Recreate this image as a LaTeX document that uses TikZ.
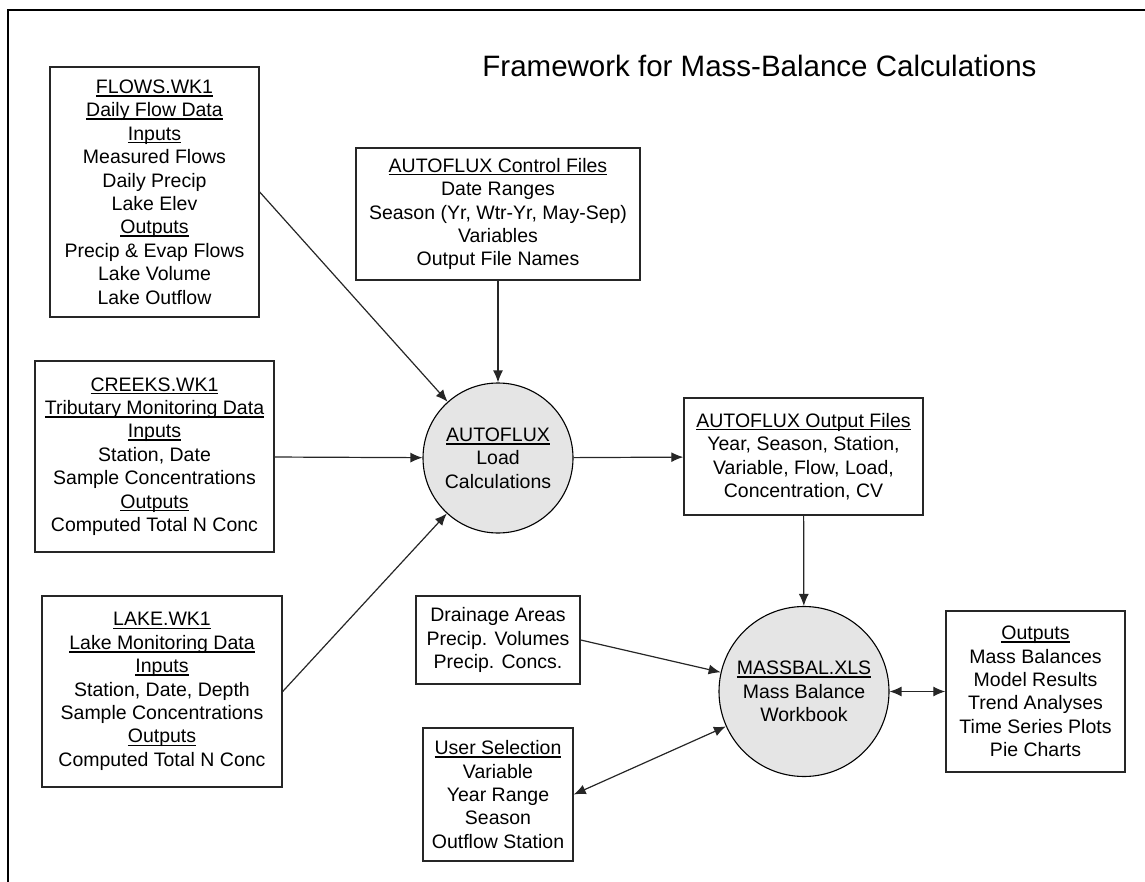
\documentclass[tikz,border=0pt]{standalone}
\usepackage{fontspec}
\setmainfont{Liberation Sans}
\usetikzlibrary{arrows.meta}

\newcommand{\bodyfont}{\fontsize{19.5}{23.4}\selectfont}
\newcommand{\titlefont}{\fontsize{29.5}{34}\selectfont}
\newcommand{\ulabel}[1]{\setbox0\hbox{#1}\hbox{\rlap{\rule[-3.2pt]{\wd0}{1.6pt}}\box0}}
\tikzset{
	box/.style={draw=black!85, line width=1.4pt, inner sep=0pt, align=center, font=\bodyfont},
	bubble/.style={circle, draw=black, line width=1.1pt, fill=black!10, inner sep=0pt, align=center, font=\bodyfont},
	flow/.style={-{Latex[length=12pt,width=10pt]}, draw=black!85, line width=1.2pt},
	twoway/.style={{Latex[length=12pt,width=10pt]}-{Latex[length=12pt,width=10pt]}, draw=black!85, line width=1.2pt},
}

\begin{document}
\begin{tikzpicture}[x=1pt, y=-1pt]
	\useasboundingbox (0,0) rectangle (1145,882);
	% Frame and title:
	\draw[line width=2.5pt] (1145,10) -| (8,882);
	\node[font=\titlefont](title) at (759.5,66){Framework for Mass-Balance Calculations};
	% Data files and inputs:
	\node[box, minimum width=209, minimum height=250](flows) at (154.5,192){\ulabel{FLOWS.WK1}\\ \ulabel{Daily Flow Data}\\ \ulabel{Inputs}\\ Measured Flows\\ Daily Precip\\ Lake Elev\\ \ulabel{Outputs}\\ Precip \& Evap Flows\\ Lake Volume\\ Lake Outflow};
	\node[box, minimum width=239, minimum height=191](creeks) at (154.5,456.5){\ulabel{CREEKS.WK1}\\ \ulabel{Tributary Monitoring Data}\\ \ulabel{Inputs}\\ Station, Date\\ Sample Concentrations\\ \ulabel{Outputs}\\ Computed Total N Conc};
	\node[box, minimum width=240, minimum height=191](lake) at (162,691.5){\ulabel{LAKE.WK1}\\ \ulabel{Lake Monitoring Data}\\ \ulabel{Inputs}\\ Station, Date, Depth\\ Sample Concentrations\\ \ulabel{Outputs}\\ Computed Total N Conc};
	\node[box, minimum width=284, minimum height=132](control) at (498,214){\ulabel{AUTOFLUX Control Files}\\ Date Ranges\\ Season (Yr, Wtr-Yr, May-Sep)\\ Variables\\ Output File Names};
	\node[box, minimum width=164, minimum height=88](drainage) at (498,640){Drainage Areas\\ Precip. Volumes\\ Precip. Concs.};
	\node[box, minimum width=150, minimum height=133](user) at (498,794.5){\ulabel{User Selection}\\ Variable\\ Year Range\\ Season\\ Outflow Station};
	% Calculations:
	\node[bubble, minimum size=150](autoflux) at (498,458){\ulabel{AUTOFLUX}\\ Load\\ Calculations};
	\node[box, minimum width=239, minimum height=117](fluxout) at (803.5,456.5){\ulabel{AUTOFLUX Output Files}\\ Year, Season, Station,\\ Variable, Flow, Load,\\ Concentration, CV};
	\node[bubble, minimum size=170](massbal) at (804,691.5){\ulabel{MASSBAL.XLS}\\ Mass Balance\\ Workbook};
	\node[box, minimum width=179, minimum height=161](results) at (1035.5,691.5){\ulabel{Outputs}\\ Mass Balances\\ Model Results\\ Trend Analyses\\ Time Series Plots\\ Pie Charts};
	% Connectors:
	\draw[flow] (flows.east) -- (autoflux);
	\draw[flow] (control) -- (autoflux);
	\draw[flow] (creeks) -- (autoflux);
	\draw[flow] (lake.east) -- (autoflux);
	\draw[flow] (autoflux) -- (fluxout);
	\draw[flow] (fluxout) -- (massbal);
	\draw[flow] (drainage.east) -- (massbal);
	\draw[twoway] (user.east) -- (massbal);
	\draw[twoway] (massbal) -- (results);
\end{tikzpicture}
\end{document}
